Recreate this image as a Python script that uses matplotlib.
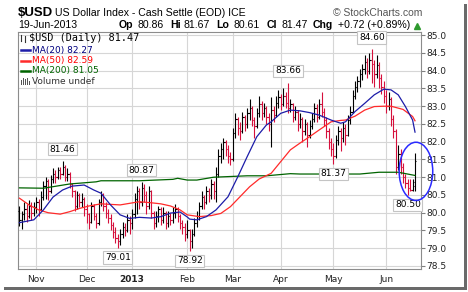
import matplotlib
matplotlib.use("Agg")
import matplotlib.pyplot as plt
from matplotlib.patches import Ellipse, Rectangle
from matplotlib.lines import Line2D
import numpy as np
import pandas as pd

W, H = 468, 292

# trading days shown on the chart (days the feed had no bar are dropped)
holidays = ["2012-10-29", "2012-10-30", "2012-11-22", "2012-12-24", "2012-12-25",
            "2013-02-18", "2013-03-29", "2013-05-27"]
dates = pd.bdate_range("2012-10-19", "2013-06-19")
dates = dates[~dates.isin(pd.to_datetime(holidays))]

# daily OHLC (Oct, Nov, Dec, Jan, Feb, Mar, Apr, May, Jun)
opens = [80.05, 79.80, 79.95, 80.10, 79.90, 80.20, 80.00,
         80.15, 80.30, 80.10, 80.45, 80.75, 80.90, 80.60, 80.95, 81.10, 81.00, 81.20,
         81.10, 81.30, 81.00, 81.10, 80.80, 80.60, 80.20, 80.50, 80.30, 80.40,
         80.10, 79.95, 79.75, 80.20, 79.90, 79.70, 80.30, 80.50, 80.20, 80.00,
         79.85, 79.65, 79.45, 79.30, 79.20, 79.40, 79.60, 79.50, 79.80,
         79.70, 79.95, 80.40, 80.60, 80.30, 80.70, 80.50, 80.20, 80.60, 80.00, 79.70,
         79.90, 80.10, 79.80, 80.00, 79.70, 79.90, 79.80, 80.00, 80.10, 79.90, 79.70, 79.60,
         79.40, 79.50, 79.20, 79.40, 79.70, 79.90, 80.20, 80.45, 80.30, 80.60,
         80.50, 80.80, 80.60, 81.10, 81.60, 81.80, 82.00, 81.80, 81.60,
         81.50, 82.25, 82.65, 82.40, 82.30, 82.70, 82.50, 82.80, 82.95, 82.60,
         82.45, 82.80, 83.05, 82.80, 82.95, 82.70, 82.50, 82.90, 82.75, 83.10,
         83.25, 83.05, 83.30, 83.10, 82.95, 83.05, 82.70, 82.85, 82.50, 82.65, 82.30,
         82.50, 82.20, 82.45, 82.65, 82.95, 82.70, 83.05, 82.85, 82.60, 82.30, 82.00,
         81.80, 81.60, 82.05, 82.30, 82.10, 82.40, 82.20, 82.60, 82.85, 83.30, 83.55,
         83.70, 83.90, 84.05, 84.25, 84.00, 84.30, 84.20, 83.90, 84.15, 83.80, 83.55,
         83.30, 83.00, 83.20, 82.65, 82.30, 81.30, 81.65, 81.30, 81.00, 80.85, 80.70,
         80.65, 80.86]
highs = [80.20, 80.05, 80.30, 80.25, 80.35, 80.30, 80.30,
         80.45, 80.40, 80.60, 80.90, 81.00, 80.95, 81.05, 81.25, 81.20, 81.30, 81.30,
         81.46, 81.35, 81.25, 81.15, 80.85, 80.65, 80.60, 80.55, 80.55, 80.45,
         80.25, 80.00, 80.30, 80.25, 80.00, 80.40, 80.60, 80.55, 80.30, 80.10,
         79.95, 79.75, 79.60, 79.40, 79.55, 79.75, 79.70, 79.95, 79.90,
         80.10, 80.55, 80.75, 80.70, 80.87, 80.80, 80.60, 80.75, 80.65, 80.05,
         80.05, 80.20, 80.15, 80.15, 80.05, 80.05, 80.00, 80.15, 80.25, 80.15, 79.95, 79.80, 79.70,
         79.80, 79.55, 79.55, 79.85, 80.05, 80.30, 80.60, 80.50, 80.75, 80.70,
         80.95, 80.90, 81.30, 81.80, 81.95, 82.10, 82.05, 81.90, 81.70,
         82.40, 82.80, 82.70, 82.55, 82.85, 82.75, 82.95, 83.20, 83.00, 82.70,
         82.95, 83.30, 83.15, 83.10, 83.00, 82.80, 83.25, 83.00, 83.30, 83.45,
         83.35, 83.50, 83.40, 83.66, 83.20, 83.10, 83.00, 82.90, 82.80, 82.70, 82.65,
         82.55, 82.60, 82.80, 83.10, 83.05, 83.20, 83.40, 82.95, 82.70, 82.40, 82.10,
         81.95, 82.20, 82.45, 82.40, 82.55, 82.50, 82.75, 83.00, 83.45, 83.70, 83.85,
         84.05, 84.20, 84.45, 84.35, 84.50, 84.60, 84.30, 84.45, 84.25, 83.90, 83.70,
         83.45, 83.40, 83.25, 82.75, 82.35, 81.90, 81.80, 81.40, 81.10, 80.95, 80.95,
         80.95, 81.67]
lows = [79.62, 79.55, 79.80, 79.75, 79.85, 79.80, 79.90,
        80.00, 79.90, 80.05, 80.35, 80.40, 80.35, 80.55, 80.85, 80.85, 80.95, 80.95,
        81.05, 80.90, 80.90, 80.70, 80.45, 80.05, 80.10, 80.15, 80.15, 79.90,
        79.70, 79.55, 79.70, 79.80, 79.58, 79.65, 80.20, 80.05, 79.85, 79.70,
        79.50, 79.30, 79.15, 79.01, 79.10, 79.30, 79.35, 79.45, 79.40,
        79.55, 79.85, 79.95, 80.10, 80.20, 80.30, 79.95, 80.10, 79.85, 79.55,
        79.60, 79.75, 79.65, 79.70, 79.55, 79.60, 79.65, 79.70, 79.85, 79.75, 79.55, 79.40, 79.20,
        79.30, 78.92, 79.00, 79.35, 79.60, 79.80, 80.10, 80.10, 80.25, 80.30,
        80.40, 80.40, 80.30, 81.00, 81.40, 81.50, 81.60, 81.40, 81.35,
        81.45, 82.10, 82.20, 82.05, 82.25, 82.30, 82.40, 82.60, 82.45, 82.10,
        82.40, 82.70, 82.60, 82.70, 82.50, 82.30, 81.85, 82.55, 82.70, 82.95,
        82.90, 83.00, 82.95, 82.80, 82.85, 82.55, 82.60, 82.30, 82.40, 82.00, 82.20,
        81.85, 82.10, 82.35, 82.55, 82.55, 82.65, 82.70, 82.45, 82.10, 81.80, 81.60,
        81.37, 81.55, 81.90, 81.75, 82.00, 81.90, 82.15, 82.50, 82.80, 83.20, 83.40,
        83.55, 83.75, 83.90, 83.80, 83.90, 83.65, 83.55, 83.80, 83.50, 83.35, 83.10,
        82.80, 82.90, 82.45, 82.10, 81.10, 81.20, 81.10, 80.85, 80.70, 80.50, 80.60,
        80.60, 80.61]
closes = [79.80, 79.95, 80.10, 79.90, 80.20, 80.00, 80.15,
          80.30, 80.10, 80.45, 80.75, 80.90, 80.60, 80.95, 81.10, 81.00, 81.20, 81.10,
          81.30, 81.00, 81.10, 80.80, 80.60, 80.20, 80.50, 80.30, 80.40, 80.10,
          79.95, 79.75, 80.20, 79.90, 79.70, 80.30, 80.50, 80.20, 80.00, 79.85,
          79.65, 79.45, 79.30, 79.20, 79.40, 79.60, 79.50, 79.80, 79.70,
          79.95, 80.40, 80.60, 80.30, 80.70, 80.50, 80.20, 80.60, 80.00, 79.70,
          79.90, 80.10, 79.80, 80.00, 79.70, 79.90, 79.80, 80.00, 80.10, 79.90, 79.70, 79.60, 79.40,
          79.50, 79.20, 79.40, 79.70, 79.90, 80.20, 80.45, 80.30, 80.60, 80.50,
          80.80, 80.60, 81.10, 81.60, 81.80, 82.00, 81.80, 81.60, 81.50,
          82.25, 82.65, 82.40, 82.30, 82.70, 82.50, 82.80, 82.95, 82.60, 82.45,
          82.80, 83.05, 82.80, 82.95, 82.70, 82.50, 82.90, 82.75, 83.10, 83.25,
          83.05, 83.30, 83.10, 82.95, 83.05, 82.70, 82.85, 82.50, 82.65, 82.30, 82.50,
          82.20, 82.45, 82.65, 82.95, 82.70, 83.05, 82.85, 82.60, 82.30, 82.00, 81.80,
          81.60, 82.05, 82.30, 82.10, 82.40, 82.20, 82.60, 82.85, 83.30, 83.55, 83.70,
          83.90, 84.05, 84.25, 84.00, 84.30, 84.20, 83.90, 84.15, 83.80, 83.55, 83.30,
          83.00, 83.20, 82.65, 82.30, 81.30, 81.65, 81.30, 81.00, 80.85, 80.70, 80.65,
          80.75, 81.47]

# moving averages at selected bars
ma20_bar = [0, 6, 10, 14, 18, 22, 27, 31, 34, 38, 42, 46, 50, 55, 59, 63, 67, 70, 71,
            74, 78, 82, 87, 91, 95, 99, 103, 105, 109, 113, 117, 121, 125, 130, 134,
            136, 140, 144, 148, 152, 155, 158, 161, 164, 165]
ma20_val = [79.72, 79.80, 80.08, 80.44, 80.64, 80.75, 80.78, 80.64, 80.55, 80.22, 79.94,
            79.84, 79.87, 79.85, 79.89, 79.99, 80.02, 79.88, 79.82, 79.80, 79.89, 80.08,
            80.45, 81.00, 81.58, 82.14, 82.47, 82.56, 82.80, 82.89, 82.87, 82.82, 82.75,
            82.61, 82.52, 82.56, 82.85, 83.08, 83.32, 83.48, 83.46, 83.32, 82.99, 82.61,
            82.27]
ma50_bar = [0, 4, 8, 12, 17, 21, 25, 29, 34, 42, 50, 55, 59, 63, 67, 70, 75, 80, 84, 88,
            92, 96, 100, 105, 109, 113, 117, 121, 125, 130, 134, 136, 140, 144, 148, 152,
            155, 160, 164, 165]
ma50_val = [80.41, 80.22, 80.08, 80.00, 79.96, 80.03, 80.12, 80.19, 80.25, 80.22, 80.31,
            80.28, 80.25, 80.19, 80.08, 79.94, 79.89, 79.92, 79.98, 80.17, 80.45, 80.73,
            80.95, 81.11, 81.44, 81.77, 81.96, 82.14, 82.33, 82.56, 82.60, 82.61, 82.72,
            82.89, 82.99, 83.00, 83.00, 82.91, 82.71, 82.59]
ma200_bar = [0, 10, 21, 32, 34, 50, 64, 66, 70, 74, 81, 95, 103, 113, 117, 142, 150, 158, 165]
ma200_val = [80.70, 80.69, 80.81, 80.87, 80.90, 80.90, 80.94, 80.97, 80.92, 80.92, 81.00,
             81.04, 81.04, 81.10, 81.09, 81.09, 81.14, 81.14, 81.05]

peak_bars = [18, 51, 112, 147]
trough_bars = [41, 71, 131, 162]

RED = "#d6103c"

plt.rcParams["font.family"] = "DejaVu Sans"
fig = plt.figure(figsize=(W / 100, H / 100), dpi=100)
fig.patch.set_facecolor("white")


def px(x, y):
    return x / W, 1 - y / H


def ftext(x, y, s, **kw):
    kw.setdefault("va", "center")
    fig.text(*px(x, y), s, **kw)


ax = fig.add_axes([18 / W, 1 - 269 / H, (421 - 18) / W, (269 - 32) / H])
ax.set_xlim(-0.6, 167.5)
ax.set_ylim(78.415, 85.09)

x = np.arange(len(closes))
c = np.array(closes)
prev = np.r_[c[0], c[:-1]]
cols = np.where(c < prev, RED, "black")
ax.vlines(x, lows, highs, colors=cols, lw=0.8, zorder=3)
ax.hlines(opens, x - 0.55, x, colors=cols, lw=0.8, zorder=3)
ax.hlines(closes, x, x + 0.55, colors=cols, lw=0.8, zorder=3)

ax.plot(ma200_bar, ma200_val, color="#006400", lw=0.9, zorder=4)
ax.plot(ma50_bar, ma50_val, color="#ff2a2a", lw=0.9, zorder=4)
ax.plot(ma20_bar, ma20_val, color="#1c1ca8", lw=0.9, zorder=4)

# high / low call-outs
box = dict(boxstyle="square,pad=0.18", fc="white", ec="#c4c4c4", lw=0.8)
for i in peak_bars:
    ax.annotate(f"{highs[i]:.2f}", (i, highs[i]), xytext=(0, 8.5), textcoords="offset points",
                ha="center", va="center", fontsize=6.5, bbox=box, zorder=6,
                annotation_clip=False)
for i in trough_bars:
    ax.annotate(f"{lows[i]:.2f}", (i, lows[i]), xytext=(0, -7), textcoords="offset points",
                ha="center", va="center", fontsize=6.5, bbox=box, zorder=6)

# hand drawn circle around the last bars
hi, lo = max(highs[-6:]), min(lows[-6:])
ax.add_patch(Ellipse((x[-1] + 0.4, (hi + lo) / 2 + 0.08), 14, (hi - lo) + 0.47,
                     fill=False, ec="#2a2aff", lw=1.1, clip_on=False, zorder=7))

# axes styling
month_start = [i for i in range(1, len(dates)) if dates[i].month != dates[i - 1].month]
ax.set_xticks(month_start)
ax.set_xticklabels(["2013" if dates[i].month == 1 else dates[i].strftime("%b") for i in month_start])
for t in ax.get_xticklabels():
    if t.get_text() == "2013":
        t.set_fontweight("bold")
        t.set_fontsize(7)
ax.tick_params(axis="x", length=0, pad=4, labelsize=6.5, labelcolor="#222222")
ax.yaxis.tick_right()
ax.set_yticks(np.arange(78.5, 85.01, 0.5))
ax.set_yticklabels([f"{v:.1f}" for v in np.arange(78.5, 85.01, 0.5)])
ax.tick_params(axis="y", length=3, color="#808080", pad=1, labelsize=6.5, labelcolor="#222222")
ax.grid(color="#d6d6d6", lw=0.8, zorder=0)
ax.set_axisbelow(True)
for s in ax.spines.values():
    s.set_color("#8c8c8c")
    s.set_linewidth(0.8)

# header
ftext(18, 12.5, "$USD", fontsize=9.5, weight="bold", family="Liberation Sans")
ftext(55, 12.5, "US Dollar Index - Cash Settle (EOD) ICE", fontsize=7.6, family="Liberation Sans")
ftext(422, 12.5, "\u00a9 StockCharts.com", ha="right", fontsize=7.5, color="#555555",
      family="Liberation Sans")
ftext(18, 25.5, dates[-1].strftime("%d-%b-%Y"), fontsize=7.6, family="Liberation Sans")
chg = closes[-1] - closes[-2]
pieces = [("Op", 119, True), (f"{opens[-1]:.2f}", 137, False),
          ("Hi", 170, True), (f"{highs[-1]:.2f}", 184, False),
          ("Lo", 216, True), (f"{lows[-1]:.2f}", 233, False),
          ("Cl", 267, True), (f"{closes[-1]:.2f}", 281, False),
          ("Chg", 313, True), (f"{chg:+.2f} ({chg / closes[-2] * 100:+.2f}%)", 338, False)]
for s, xp, b in pieces:
    ftext(xp, 25.5, s, fontsize=7.6, family="Liberation Sans", weight="bold" if b else "normal")
fig.add_artist(Line2D([417 / W], [1 - 25.5 / H], marker="^", ms=4, color="#2e9a2e", ls=""))

# legend inside the plot
ftext(29, 38, f"$USD (Daily) {closes[-1]:.2f}", fontsize=7.3, family="DejaVu Sans Mono")
for xs, y0, y1 in [(21, 35, 41), (24.5, 36, 42)]:
    fig.add_artist(Line2D([xs / W, xs / W], [1 - y0 / H, 1 - y1 / H], color="#333333", lw=0.8))
leg = [(f"MA(20) {ma20_val[-1]:.2f}", "#000080", "#1c1ca8", 50),
       (f"MA(50) {ma50_val[-1]:.2f}", "#ff0000", "#ff2a2a", 60.5),
       (f"MA(200) {ma200_val[-1]:.2f}", "#006400", "#006400", 71)]
for s, tc, lc, yy in leg:
    fig.add_artist(Line2D([21 / W, 30 / W], [1 - yy / H] * 2, color=lc, lw=1.8))
    ftext(31.5, yy, s, fontsize=6.5, color=tc)
for k, hgt in enumerate([5, 7, 6, 7, 4]):
    fig.add_artist(Rectangle(px(21 + 2 * k, 85), 1.4 / W, hgt / H, color="#555555", lw=0))
ftext(31.5, 81.5, "Volume undef", fontsize=6.5, color="#333333")

# screenshot shadow
fig.add_artist(Rectangle(px(464, 290), 3 / W, 286 / H, color="#6a6a6a", lw=0))
fig.add_artist(Rectangle(px(4, 290), 463 / W, 3 / H, color="#6a6a6a", lw=0))

fig.savefig("out.png", dpi=100)
